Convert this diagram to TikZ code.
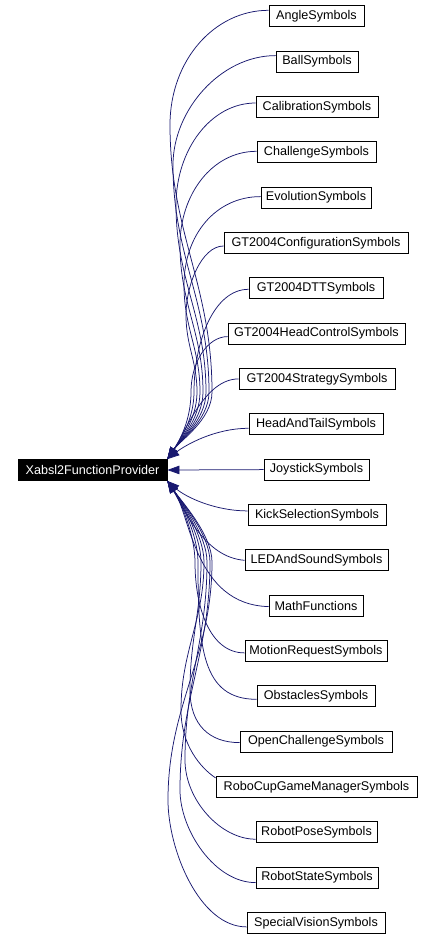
\documentclass[tikz,border=0pt]{standalone}
\usepackage{fontspec}
\setmainfont{Liberation Sans}
\usetikzlibrary{arrows.meta}
\definecolor{edgeblue}{HTML}{191970}
\begin{document}
\begin{tikzpicture}[x=1pt,y=-1pt,
  cls/.style={draw=black, line width=0.8pt, fill=white, inner sep=0pt, minimum height=21pt, font=\fontsize{12.6}{14}\selectfont},
  mainbox/.style={cls, fill=black, text=white},
  edge/.style={draw=edgeblue, line width=0.75pt, {Triangle[length=12pt,width=8.5pt]}-}]
\useasboundingbox (0,0) rectangle (433,940);
\node[mainbox, minimum width=149pt] (main) at (92.5,470) {Xabsl2FunctionProvider};
\node[cls, minimum width=95pt]  (angle)  at (316.5,16.3)  {AngleSymbols};
\node[cls, minimum width=82pt]  (ball)   at (317,61.6)    {BallSymbols};
\node[cls, minimum width=122pt] (calib)  at (317,107.0)   {CalibrationSymbols};
\node[cls, minimum width=119pt] (chall)  at (316.5,152.3) {ChallengeSymbols};
\node[cls, minimum width=110pt] (evol)   at (316,197.6)   {EvolutionSymbols};
\node[cls, minimum width=184pt] (config) at (316,243.0)   {GT2004ConfigurationSymbols};
\node[cls, minimum width=134pt] (dtt)    at (316,288.3)   {GT2004DTTSymbols};
\node[cls, minimum width=177pt] (hc)     at (316.5,333.6) {GT2004HeadControlSymbols};
\node[cls, minimum width=156pt] (strat)  at (317,378.9)   {GT2004StrategySymbols};
\node[cls, minimum width=134pt] (ht)     at (316,424.3)   {HeadAndTailSymbols};
\node[cls, minimum width=105pt] (joy)    at (316.5,469.6) {JoystickSymbols};
\node[cls, minimum width=138pt] (kick)   at (317,514.9)   {KickSelectionSymbols};
\node[cls, minimum width=143pt] (led)    at (316.5,560.3) {LEDAndSoundSymbols};
\node[cls, minimum width=94pt]  (math)   at (316,605.6)   {MathFunctions};
\node[cls, minimum width=142pt] (motion) at (316,650.9)   {MotionRequestSymbols};
\node[cls, minimum width=118pt] (obst)   at (316,696.3)   {ObstaclesSymbols};
\node[cls, minimum width=152pt] (open)   at (316,741.6)   {OpenChallengeSymbols};
\node[cls, minimum width=201pt] (robocup) at (316.5,786.9) {RoboCupGameManagerSymbols};
\node[cls, minimum width=121pt] (pose)   at (316.5,832.2) {RobotPoseSymbols};
\node[cls, minimum width=122pt] (state)  at (317,877.6)   {RobotStateSymbols};
\node[cls, minimum width=138pt] (sv)     at (316,922.9)   {SpecialVisionSymbols};
% upper edges
\draw[edge] (main.north east) .. controls +(12,-18) and +(0,28) .. (212,392) .. controls +(0,-107) and +(0,107) .. (170,125) .. controls +(0,-65) and +(-54,0) .. ([yshift=6pt]angle.west);
\draw[edge] (main.north east) .. controls +(12,-18) and +(0,28) .. (209,392) .. controls +(0,-91) and +(0,91) .. (173,165) .. controls +(0,-55) and +(-55,0) .. ([yshift=6pt]ball.west);
\draw[edge] (main.north east) .. controls +(12,-18) and +(0,28) .. (206,392) .. controls +(0,-75) and +(0,75) .. (176,205) .. controls +(0,-55) and +(-45,0) .. ([yshift=4pt]calib.west);
\draw[edge] (main.north east) .. controls +(12,-18) and +(0,28) .. (203,392) .. controls +(0,-59) and +(0,59) .. (180,245) .. controls +(0,-50) and +(-45,0) .. ([yshift=1pt]chall.west);
\draw[edge] (main.north east) .. controls +(12,-18) and +(0,28) .. (200,392) .. controls +(0,-43) and +(0,43) .. (184,285) .. controls +(0,-50) and +(-45,0) .. ([yshift=1pt]evol.west);
\draw[edge] (main.north east) .. controls +(12,-18) and +(0,28) .. (197,392) .. controls +(0,-31) and +(0,31) .. (186,315) .. controls +(0,-30) and +(-22,0) .. ([yshift=-3pt]config.west);
\draw[edge] (main.north east) .. controls +(12,-18) and +(0,28) .. (194,392) .. controls +(0,-50) and +(-35,0) .. ([yshift=-1pt]dtt.west);
\draw[edge] (main.north east) .. controls +(12,-18) and +(0,28) .. (191,392) .. controls +(0,-30) and +(-20,0) .. ([yshift=-3pt]hc.west);
\draw[edge] (main.north east) .. controls +(18,-27) and +(-34,0) .. (strat.west);
\draw[edge] (main.north east) .. controls +(18,-14) and +(-34,0) .. ([yshift=-4pt]ht.west);
% middle
\draw[edge] (main.east) -- (joy.west);
% lower edges
\draw[edge] (main.south east) .. controls +(18,16) and +(-33,0) .. ([yshift=4pt]kick.west);
\draw[edge] (main.south east) .. controls +(18,30) and +(-40,-3) .. (led.west);
\draw[edge] (main.south east) .. controls +(23,34) and +(-74,-2) .. ([yshift=-1pt]math.west);
\draw[edge] (main.south east) .. controls +(12,18) and +(0,-28) .. (195,562) .. controls +(0,45) and +(-35,0) .. ([yshift=-2pt]motion.west);
\draw[edge] (main.south east) .. controls +(12,18) and +(0,-28) .. (198,562) .. controls +(0,85) and +(-55,0) .. ([yshift=-3pt]obst.west);
\draw[edge] (main.south east) .. controls +(12,18) and +(0,-28) .. (201,562) .. controls +(0,51) and +(0,-51) .. (190,690) .. controls +(0,35) and +(-30,0) .. ([yshift=-1pt]open.west);
\draw[edge] (main.south east) .. controls +(12,18) and +(0,-28) .. (204,562) .. controls +(0,59) and +(0,-59) .. (181,710) .. controls +(0,35) and +(-15,-10) .. ([yshift=9pt]robocup.west);
\draw[edge] (main.south east) .. controls +(12,18) and +(0,-28) .. (207,562) .. controls +(0,79) and +(0,-79) .. (185,760) .. controls +(0,40) and +(-35,0) .. ([yshift=-7pt]pose.west);
\draw[edge] (main.south east) .. controls +(12,18) and +(0,-28) .. (210,562) .. controls +(0,91) and +(0,-91) .. (180,790) .. controls +(0,40) and +(-41,0) .. ([yshift=-5pt]state.west);
\draw[edge] (main.south east) .. controls +(12,18) and +(0,-28) .. (212,562) .. controls +(0,95) and +(0,-95) .. (168,800) .. controls +(0,50) and +(-47,0) .. ([yshift=-4pt]sv.west);
\end{tikzpicture}
\end{document}
